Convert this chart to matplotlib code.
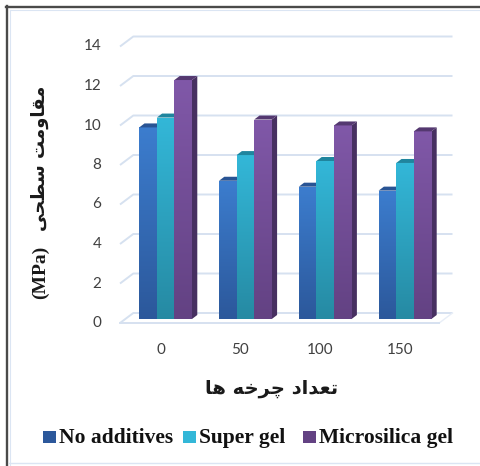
import numpy as np
import matplotlib
matplotlib.use("Agg")
import matplotlib.pyplot as plt
from matplotlib.patches import Polygon, Rectangle
from matplotlib.lines import Line2D
from matplotlib.transforms import ScaledTranslation
from matplotlib import font_manager
from matplotlib.ft2font import FT2Font

# ---------------- data ----------------
cycles = ["0", "50", "100", "150"]
series_names = ["No additives", "Super gel", "Microsilica gel"]
no_additives = [9.7, 7.0, 6.7, 6.5]
super_gel = [10.2, 8.3, 8.0, 7.9]
microsilica_gel = [12.1, 10.1, 9.8, 9.5]
y_ticks = [0, 2, 4, 6, 8, 10, 12, 14]
x_title = "تعداد چرخه ها"
y_title = "مقاومت سطحی"
y_unit = "(MPa)"

# ---------------- simple Arabic/Persian shaping ----------------
FORMS = {
    "\u0627": (0xFE8D, 0xFE8E, None, None),
    "\u062A": (0xFE95, 0xFE96, 0xFE97, 0xFE98),
    "\u0639": (0xFEC9, 0xFECA, 0xFECB, 0xFECC),
    "\u062F": (0xFEA9, 0xFEAA, None, None),
    "\u0686": (0xFB7A, 0xFB7B, 0xFB7C, 0xFB7D),
    "\u0631": (0xFEAD, 0xFEAE, None, None),
    "\u062E": (0xFEA5, 0xFEA6, 0xFEA7, 0xFEA8),
    "\u0647": (0xFEE9, 0xFEEA, 0xFEEB, 0xFEEC),
    "\u0645": (0xFEE1, 0xFEE2, 0xFEE3, 0xFEE4),
    "\u0642": (0xFED5, 0xFED6, 0xFED7, 0xFED8),
    "\u0648": (0xFEED, 0xFEEE, None, None),
    "\u0633": (0xFEB1, 0xFEB2, 0xFEB3, 0xFEB4),
    "\u0637": (0xFEC1, 0xFEC2, 0xFEC3, 0xFEC4),
    "\u062D": (0xFEA1, 0xFEA2, 0xFEA3, 0xFEA4),
    "\u06CC": (0xFBFC, 0xFBFD, 0xFBFE, 0xFBFF),
}
# fallbacks if a presentation form is missing in the font
FALLBACK = {0xFB7A: 0xFE9D, 0xFB7B: 0xFE9E, 0xFB7C: 0xFE9F, 0xFB7D: 0xFEA0,
            0xFBFC: 0xFEEF, 0xFBFD: 0xFEF0, 0xFBFE: 0xFEF3, 0xFBFF: 0xFEF4}


def dual(c):
    return c in FORMS and FORMS[c][2] is not None


def shape(text, ft):
    out = []
    n = len(text)
    for i, c in enumerate(text):
        if c not in FORMS:
            out.append(c)
            continue
        prev = text[i - 1] if i > 0 else " "
        nxt = text[i + 1] if i < n - 1 else " "
        jp = dual(prev)
        jn = dual(c) and nxt in FORMS
        f = FORMS[c]
        if jp and jn:
            cp = f[3]
        elif jp:
            cp = f[1]
        elif jn:
            cp = f[2]
        else:
            cp = f[0]
        if ft.get_char_index(cp) == 0 and cp in FALLBACK:
            cp = FALLBACK[cp]
        out.append(chr(cp))
    return "".join(reversed(out))


ar_path = font_manager.findfont(font_manager.FontProperties(family="DejaVu Sans", weight="bold"))
ft_ar = FT2Font(ar_path)
ar_weight = "bold"
if ft_ar.get_char_index(0xFE97) == 0:
    ar_path = font_manager.findfont(font_manager.FontProperties(family="DejaVu Sans"))
    ft_ar = FT2Font(ar_path)
    ar_weight = "normal"

# ---------------- figure / axes ----------------
W, H = 481, 466
fig = plt.figure(figsize=(W / 100, H / 100), dpi=100)
fig.patch.set_facecolor("white")
ax_left, ax_right = 125.7, 444.9
ax_bottom, ax_top = 319.0, 42.5
ax = fig.add_axes([ax_left / W, (H - ax_bottom) / H, (ax_right - ax_left) / W, (ax_bottom - ax_top) / H])
xmin, xmax = -0.5, len(cycles) - 0.5
ymin, ymax = 0, 14
ux = (xmax - xmin) / (ax_right - ax_left)
uy = (ymax - ymin) / (ax_bottom - ax_top)

for s in ax.spines.values():
    s.set_visible(False)
ax.set_facecolor("none")

grid_c = "#d6e1f0"
# 3D offsets in pixels (right, up)
back = (7.6 * ux, 6.0 * uy)
front = (-5.7 * ux, -4.0 * uy)
depth = (5.3 * ux, 4.0 * uy)

for v in y_ticks:
    ax.plot([xmin + front[0], xmin + back[0], xmax + back[0]],
            [v + front[1], v + back[1], v + back[1]],
            color=grid_c, lw=1.4, clip_on=False, zorder=0, solid_capstyle="butt")
ax.plot([xmin + front[0], xmax + front[0]], [front[1], front[1]],
        color=grid_c, lw=1.4, clip_on=False, zorder=0.5)
ax.plot([xmax + front[0], xmax + back[0]], [front[1], back[1]],
        color="#e8eef7", lw=1.0, clip_on=False, zorder=0.4)

# colours: (front top, front bottom, side, top)
colors = [
    ((0.235, 0.490, 0.808), (0.172, 0.345, 0.608), (0.14, 0.27, 0.48), (0.16, 0.33, 0.58)),
    ((0.200, 0.718, 0.847), (0.149, 0.541, 0.639), (0.11, 0.44, 0.53), (0.12, 0.52, 0.62)),
    ((0.502, 0.345, 0.659), (0.388, 0.259, 0.514), (0.28, 0.19, 0.38), (0.33, 0.22, 0.44)),
]
series = [no_additives, super_gel, microsilica_gel]
w = 0.2205
x = np.arange(len(cycles))
for j, vals in enumerate(series):
    ctop, cbot, cside, ctopf = colors[j]
    xs = x + (j - 1) * w
    bars = ax.bar(xs, vals, width=w, color=cbot, zorder=2 + j, linewidth=0)
    grad = np.linspace(0, 1, 64)[:, None, None]
    img = np.array(cbot)[None, None, :] * (1 - grad) + np.array(ctop)[None, None, :] * grad
    for b, v in zip(bars, vals):
        x0 = b.get_x()
        im = ax.imshow(img, extent=[x0, x0 + w, 0, v], origin="lower", aspect="auto",
                       zorder=2 + j, interpolation="bilinear")
        im.set_clip_path(b)
        # side face
        ax.add_patch(Polygon([(x0 + w, 0), (x0 + w + depth[0], depth[1]),
                              (x0 + w + depth[0], v + depth[1]), (x0 + w, v)],
                             closed=True, facecolor=cside, edgecolor="none",
                             zorder=1.9 + j, clip_on=False))
        # top face
        ax.add_patch(Polygon([(x0, v), (x0 + w, v), (x0 + w + depth[0], v + depth[1]),
                              (x0 + depth[0], v + depth[1])],
                             closed=True, facecolor=ctopf, edgecolor="none",
                             zorder=2.05 + j, clip_on=False))

ax.set_xlim(xmin, xmax)
ax.set_ylim(ymin, ymax)

tick_font = dict(family="Lato", size=11)
ax.set_yticks(y_ticks)
ax.set_yticklabels([str(t) for t in y_ticks], color="#404040", fontdict=tick_font)
ax.set_xticks(x)
ax.set_xticklabels(cycles, color="#404040", fontdict=tick_font)
ax.tick_params(axis="y", length=0, pad=17.5)
ax.tick_params(axis="x", length=0, pad=17.0)
for lab in ax.get_yticklabels():
    lab.set_transform(lab.get_transform() + ScaledTranslation(0, -2.5 / 100, fig.dpi_scale_trans))
for lab in ax.get_xticklabels():
    lab.set_transform(lab.get_transform() + ScaledTranslation(-5.0 / 100, 0, fig.dpi_scale_trans))

# axis titles
fig.text(272 / W, 1 - 389 / H, shape(x_title, ft_ar), family="DejaVu Sans", weight=ar_weight,
         size=14, ha="center", va="center", color="#1a1a1a")
fig.text(40 / W, 1 - 158 / H, shape(y_title, ft_ar), family="DejaVu Sans", weight=ar_weight,
         size=13, ha="center", va="center", rotation=90, color="#1a1a1a")
fig.text(40 / W, 1 - 272 / H, y_unit, family="Liberation Serif", weight="bold",
         size=14, ha="center", va="center", rotation=90, color="#1a1a1a")

# legend
leg_sq = [(43, colors[0][1]), (183, colors[1][0]), (303, colors[2][1])]
leg_txt = [59, 199, 319]
for (sx, c), tx, name in zip(leg_sq, leg_txt, series_names):
    fig.add_artist(Rectangle((sx / W, 1 - 443 / H), 13 / W, 12 / H, transform=fig.transFigure,
                             facecolor=c, edgecolor="none"))
    fig.text(tx / W, 1 - 443 / H, name, family="Liberation Serif", weight="bold", size=15.5,
             ha="left", va="baseline", color="#111111")

# frame
fig.add_artist(Line2D([6 / W, 1], [1 - 7 / H, 1 - 7 / H], color="#4a4a4a", lw=1.7))
fig.add_artist(Line2D([7 / W, 7 / W], [0, 1 - 6 / H], color="#4a4a4a", lw=1.7))
fig.add_artist(Line2D([9.5 / W, 1], [1 - 9.5 / H, 1 - 9.5 / H], color="#dbe5f3", lw=0.8))
fig.add_artist(Line2D([9.5 / W, 9.5 / W], [0, 1 - 9.5 / H], color="#dbe5f3", lw=0.8))
fig.add_artist(Line2D([9 / W, 1], [1 - 463 / H, 1 - 463 / H], color="#dbe5f3", lw=1.0))

fig.savefig("out.png", dpi=100)
